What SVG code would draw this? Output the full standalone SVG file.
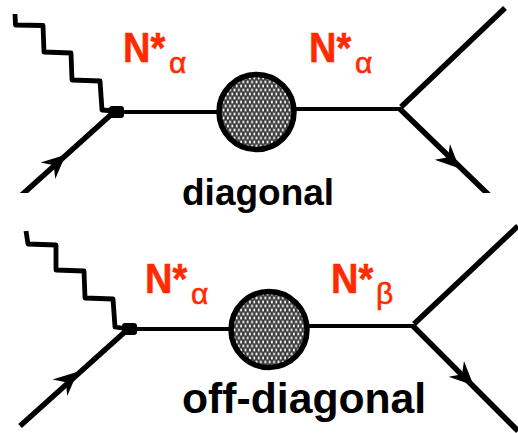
<svg xmlns="http://www.w3.org/2000/svg" width="518" height="433" viewBox="0 0 518 433">
<style>
.w{fill:none;stroke:#000;stroke-width:4.800;stroke-linejoin:round}
.f{fill:none;stroke:#000;stroke-width:5.500}
.p{fill:none;stroke:#000;stroke-width:3.800}
.b{fill:url(#dither);stroke:#000;stroke-width:5.500}
.n{font-family:"Liberation Sans",Arial,sans-serif;font-weight:700;font-size:38px;fill:#ff2a00;stroke:#ff2a00;stroke-width:.5}
.s{font-family:"Liberation Sans",Arial,sans-serif;font-size:30px;fill:#ff2a00;stroke:#ff2a00;stroke-width:.6}
.t{font-family:"Liberation Sans",Arial,sans-serif;font-weight:700;fill:#000}
</style>
<defs>
<pattern id="dither" width="4.4" height="8" patternUnits="userSpaceOnUse">
<rect width="4.400" height="8" fill="#3c3c3c"/>
<rect x="0.400" y="0.600" width="1.800" height="2.800" fill="#f0f0f0"/>
<rect x="2.600" y="4.600" width="1.800" height="2.800" fill="#f0f0f0"/>
</pattern>
<path id="arrow" d="M5 0L-19 -11L-11 0L-19 11Z" fill="#000"/>
<clipPath id="top"><rect width="518" height="193"/></clipPath>
</defs>
<g id="connectors">
<g clip-path="url(#top)">
<path class="w" d="M15 14L15.500 25L43 25.500L44 52L71 53L72 80L100 81L102 110L116 111"/>
<path class="f" d="M15 201L114 112"/>
<path class="p" d="M116 112H218"/>
<path class="p" d="M296 109H401"/>
<path class="f" d="M401 107L505 8"/>
<path class="f" d="M400 109L494 200"/>
<use href="#arrow" transform="translate(62 158) rotate(-42)"/>
<use href="#arrow" transform="translate(456 165) rotate(44)"/>
</g>
<path class="w" d="M26 231L28 244L56 245L56 270L84 271L85 298L113 299L115 327L128 329"/>
<path class="f" d="M20 426L127 330"/>
<path class="p" d="M130 329H230"/>
<path class="p" d="M309 326H414"/>
<path class="f" d="M414 324L518 226"/>
<path class="f" d="M413 326L518 431"/>
<use href="#arrow" transform="translate(74 375) rotate(-42)"/>
<use href="#arrow" transform="translate(470 382) rotate(44)"/>
</g>
<g id="vertex-top"><rect x="109" y="106" width="15" height="12" rx="3"/></g>
<g id="vertex-bottom"><rect x="122" y="323" width="15" height="12" rx="3"/></g>
<g id="blob-top"><circle class="b" cx="256.500" cy="112" r="37.500"/></g>
<g id="blob-bottom"><circle class="b" cx="269" cy="329.500" r="38"/></g>
<g id="label-1">
<text class="n" transform="translate(123 62) scale(1 1.12)">N*</text>
<text class="s" x="169" y="73">α</text>
</g>
<g id="label-2">
<text class="n" transform="translate(309 62) scale(1 1.12)">N*</text>
<text class="s" x="355" y="73">α</text>
</g>
<g id="label-3">
<text class="n" transform="translate(145 293) scale(1 1.12)">N*</text>
<text class="s" x="191" y="304">α</text>
</g>
<g id="label-4">
<text class="n" transform="translate(331 293) scale(1 1.12)">N*</text>
<text class="s" x="376" y="304">β</text>
</g>
<g id="caption-top"><text class="t" x="182" y="205" font-size="37">diagonal</text></g>
<g id="caption-bottom"><text class="t" x="182" y="413" font-size="42.700">off-diagonal</text></g>
</svg>
